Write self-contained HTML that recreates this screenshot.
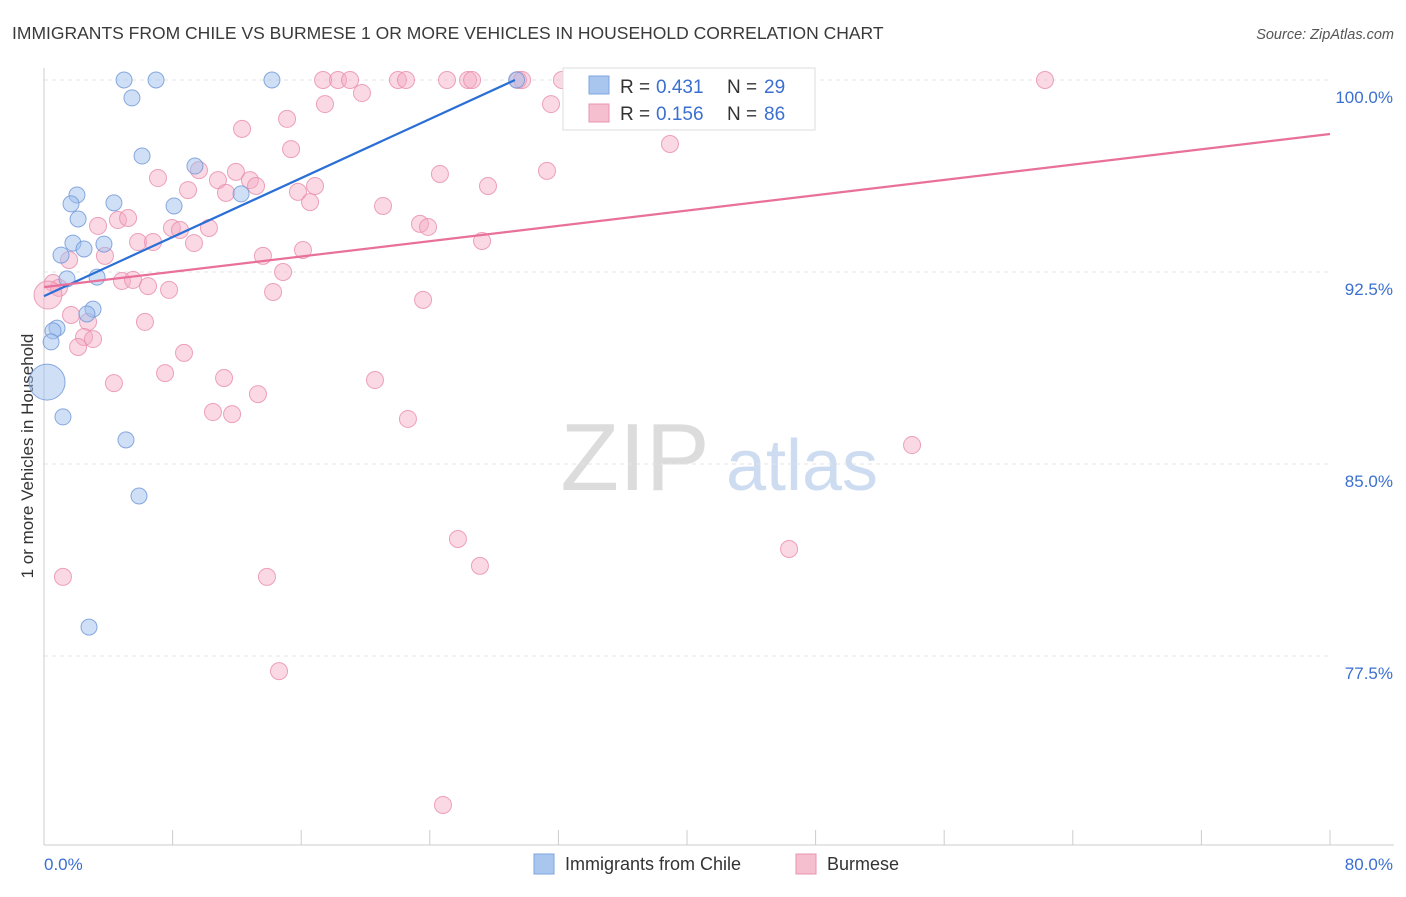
<!DOCTYPE html>
<html><head><meta charset="utf-8"><style>
body{margin:0;background:#fff;font-family:"Liberation Sans",sans-serif;}
svg text{font-family:"Liberation Sans",sans-serif;}
</style></head><body>
<svg id="chart" width="1406" height="892" xmlns="http://www.w3.org/2000/svg">
<text x="12" y="39" font-size="17.5" fill="#3a3a3a">IMMIGRANTS FROM CHILE VS BURMESE 1 OR MORE VEHICLES IN HOUSEHOLD CORRELATION CHART</text>
<text x="1394" y="39" font-size="14.5" fill="#555" text-anchor="end" font-style="italic">Source: ZipAtlas.com</text>
<text transform="translate(33,456) rotate(-90)" font-size="17" fill="#333" text-anchor="middle">1 or more Vehicles in Household</text>
<g>
<text x="635" y="490" font-size="96" fill="#dcdcdc" text-anchor="middle" font-family="Liberation Serif">ZIP</text>
<text x="802" y="490" font-size="72" fill="#cddcf0" text-anchor="middle">atlas</text>
</g>
<g id="grid"></g><g id="axes"></g><g id="pts"></g><g id="trends"></g>
<g>
<rect x="563" y="68" width="252" height="62" fill="#fff" stroke="#ddd"/>
<rect x="589" y="76" width="20" height="18" fill="#a9c6ef" stroke="#7fa6e0"/>
<text x="620" y="93" font-size="19" fill="#333">R =</text>
<text x="656" y="93" font-size="19" fill="#3b6fd0">0.431</text>
<text x="727" y="93" font-size="19" fill="#333">N =</text>
<text x="764" y="93" font-size="19" fill="#3b6fd0">29</text>
<rect x="589" y="104" width="20" height="18" fill="#f6bfd0" stroke="#eb94b0"/>
<text x="620" y="120" font-size="19" fill="#333">R =</text>
<text x="656" y="120" font-size="19" fill="#3b6fd0">0.156</text>
<text x="727" y="120" font-size="19" fill="#333">N =</text>
<text x="764" y="120" font-size="19" fill="#3b6fd0">86</text>
</g>
<g>
<rect x="534" y="854" width="20" height="20" fill="#a9c6ef" stroke="#7fa6e0"/>
<text x="565" y="870" font-size="18" fill="#333">Immigrants from Chile</text>
<rect x="796" y="854" width="20" height="20" fill="#f6bfd0" stroke="#eb94b0"/>
<text x="827" y="870" font-size="18" fill="#333">Burmese</text>
</g>
<text x="44" y="870" font-size="17" fill="#3b6fd0">0.0%</text>
<text x="1393" y="870" font-size="17" fill="#3b6fd0" text-anchor="end">80.0%</text>
</svg>
<script>
const yTicks=[100,92.5,85,77.5];
const yTickLabels=["100.0%","92.5%","85.0%","77.5%"];
const xTicks=[0,8,16,24,32,40,48,56,64,72,80];
const chileX=[4.98,6.97,14.18,5.47,6.10,9.39,12.26,2.05,1.68,4.35,8.09,2.12,1.80,3.73,2.49,1.06,1.43,3.30,3.05,2.67,0.81,0.56,0.44,0.19,1.18,5.10,5.91,2.80,29.4];
const chileY=[100,100,100,99.30,97.03,96.64,95.55,95.51,95.16,95.20,95.08,94.57,93.63,93.59,93.40,93.16,92.23,92.30,91.05,90.86,90.31,90.20,89.77,88.20,86.84,85.94,83.75,78.63,100];
const burX=[17.36,18.29,19.04,22.02,22.52,25.07,26.38,26.63,29.49,29.74,32.22,40.18,62.27,19.78,17.48,31.54,12.32,15.12,15.37,38.94,7.09,11.94,9.64,8.96,10.82,11.32,12.81,13.19,15.80,16.86,16.55,21.09,24.63,27.62,31.29,4.60,5.23,3.36,7.96,8.46,10.26,5.85,6.78,9.33,3.79,13.62,16.11,23.39,23.89,27.25,1.56,4.85,5.54,6.47,7.78,14.87,14.25,0.56,0.93,0.25,23.58,1.68,2.74,6.28,2.49,3.05,2.12,8.71,7.53,11.20,4.35,20.59,13.31,10.51,11.70,22.64,54.00,25.75,46.35,27.12,1.18,13.87,14.62,24.82];
const burY=[100,100,100,100,100,100,100,100,100,100,100,100,100,99.49,99.06,99.06,98.09,98.48,97.30,97.50,96.17,96.41,96.48,95.70,96.09,95.59,96.09,95.86,95.63,95.86,95.23,95.08,96.33,95.86,96.45,94.53,94.61,94.30,94.22,94.14,94.22,93.67,93.67,93.63,93.13,93.13,93.36,94.38,94.26,93.71,92.97,92.15,92.19,91.95,91.80,92.50,91.72,92.07,91.88,91.60,91.41,90.82,90.55,90.55,89.96,89.88,89.57,89.34,88.55,88.36,88.16,88.28,87.73,87.03,86.95,86.76,85.74,82.07,81.68,81.02,80.59,80.59,76.91,71.68];
const chileTrend=[[0,91.56],[29.3,100]];
const burTrend=[[0,91.91],[80,97.89]];
const NS="http://www.w3.org/2000/svg";
const X=v=>44+v*16.075, Y=v=>80+(100-v)*25.6;
function mk(p,t,a){const e=document.createElementNS(NS,t);for(const k in a)e.setAttribute(k,a[k]);p.appendChild(e);return e;}
const gridG=document.getElementById('grid'),axesG=document.getElementById('axes'),ptsG=document.getElementById('pts'),trG=document.getElementById('trends');
yTicks.forEach((t,i)=>{
 const l=mk(gridG,'line',{x1:44,x2:1330,y1:Y(t),y2:Y(t),stroke:'#e3e3e3','stroke-dasharray':'4,4'});
 
 
 const tx=mk(gridG,'text',{x:1393,y:Y(t)+23,'font-size':17,fill:'#3b6fd0','text-anchor':'end'});
 tx.textContent=yTickLabels[i];
 
 
});
const topGrid=mk(gridG,'line',{x1:44,x2:1330,y1:80,y2:80,stroke:'#e3e3e3','stroke-dasharray':'4,4'});


const ax=mk(axesG,'line',{x1:44,x2:1394,y1:845,y2:845,stroke:'#ccc'});


const ay=mk(axesG,'line',{x1:44,x2:44,y1:68,y2:845,stroke:'#ccc'});


xTicks.forEach(t=>{
 const l=mk(axesG,'line',{x1:X(t),x2:X(t),y1:830,y2:845,stroke:'#ccc'});
 
 
});
burX.forEach((x,i)=>{
 const r=(i===59)?14:8.5;
 const c=mk(ptsG,'circle',{cx:X(x),cy:Y(burY[i]),r:r,fill:'rgba(244,170,195,0.45)',stroke:'rgba(232,140,172,0.8)','stroke-width':1});
 
 
});
chileX.forEach((x,i)=>{
 const r=(i===23)?18:8;
 const c=mk(ptsG,'circle',{cx:X(x),cy:Y(chileY[i]),r:r,fill:'rgba(160,192,238,0.5)',stroke:'rgba(110,150,215,0.8)','stroke-width':1});
 
 
});
const bl=mk(trG,'line',{x1:X(chileTrend[0][0]),y1:Y(chileTrend[0][1]),x2:X(chileTrend[1][0]),y2:Y(chileTrend[1][1]),stroke:'#2a6fd6','stroke-width':2.2});


const pl=mk(trG,'line',{x1:X(burTrend[0][0]),y1:Y(burTrend[0][1]),x2:X(burTrend[1][0]),y2:Y(burTrend[1][1]),stroke:'#e8709a','stroke-width':2.2});


</script>
</body></html>
